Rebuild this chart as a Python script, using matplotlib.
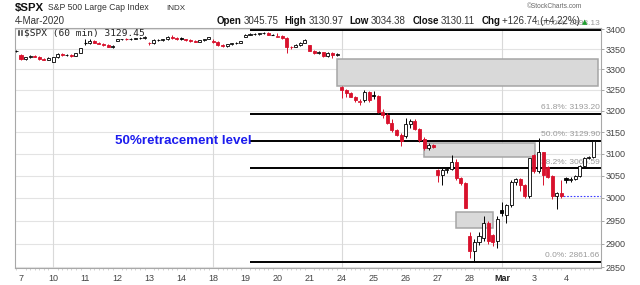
import matplotlib
matplotlib.use('Agg')
import matplotlib.pyplot as plt
from matplotlib.patches import Rectangle
from matplotlib.ticker import NullLocator, FixedLocator

plt.rcParams['font.family'] = ['Liberation Sans', 'DejaVu Sans']

# ---------------- data ----------------
day_labels = ['7', '10', '11', '12', '13', '14', '18', '19', '20', '21',
              '24', '25', '26', '27', '28', 'Mar', '3', '4']
week_starts = ['10', '18', '24', 'Mar']
bars_per_day = 7

opens = [3344.0,
         3335.5, 3326, 3329, 3332, 3331, 3325, 3324,
         3318.3, 3329, 3338, 3334, 3336, 3333, 3340,
         3365.9, 3366, 3370, 3365, 3363, 3360, 3356,
         3370.5, 3374, 3375, 3374.5, 3376, 3377, 3378,
         3365.9, 3364, 3372, 3373, 3374, 3381, 3377,
         3378.1, 3374, 3372, 3370, 3368, 3372, 3375,
         3369, 3368, 3360, 3357, 3362, 3364, 3366,
         3380.4, 3386, 3387, 3388, 3389, 3390, 3386,
         3380.5, 3382, 3378, 3355, 3356, 3360, 3366,
         3360.5, 3346, 3340, 3342, 3332, 3341, 3334,
         3257.6, 3250, 3242, 3234, 3221, 3226, 3246,
         3238.9, 3235, 3198, 3190, 3172, 3155, 3143,
         3139.9, 3168, 3176, 3157, 3135, 3112, 3120,
         3062.5, 3051, 3062, 3065, 3082, 3044, 3033,
         2916.9, 2885, 2903, 2912, 2945, 2918, 2905,
         2974.3, 2962, 2984, 3035, 3042, 3030, 3004,
         3096.5, 3060, 3103, 3070, 3050, 3004, 3012,
         3045.75, 3040, 3043, 3049, 3072, 3090, 3092]

highs = [3346.5,
         3337, 3331, 3334, 3335, 3333, 3328, 3330,
         3330, 3339, 3340, 3337, 3338, 3341, 3352.3,
         3375.6, 3374, 3372, 3368, 3365, 3362, 3360,
         3375, 3376, 3377, 3377, 3378, 3380, 3381.5,
         3368, 3374, 3375, 3376, 3382, 3385.1, 3379,
         3380.7, 3376, 3374, 3372, 3373, 3376, 3380.7,
         3375, 3369, 3362, 3363, 3366, 3368, 3371,
         3388, 3389, 3390, 3391, 3393.5, 3392, 3388,
         3389.2, 3384, 3379, 3358, 3362, 3368, 3376,
         3360.8, 3348, 3344, 3343, 3342, 3342, 3339,
         3259.8, 3253, 3246, 3236, 3228, 3250, 3248,
         3247, 3237, 3204, 3196, 3180, 3158, 3148,
         3182.5, 3180, 3180, 3160, 3138, 3124, 3122,
         3064, 3068, 3068, 3097, 3088, 3046, 3035,
         2925, 2910, 2925, 2960, 2950, 2922, 2959.7,
         2990, 2986, 3040, 3045, 3044, 3032, 3091,
         3100, 3136.7, 3105, 3072, 3052, 3014, 3040,
         3048, 3046, 3052, 3075, 3092, 3095, 3131]

lows = [3343,
        3324, 3322, 3327, 3330, 3323, 3322, 3322,
        3317.8, 3327, 3332, 3332, 3331, 3332, 3339,
        3361, 3362, 3364, 3362, 3358, 3354, 3352.7,
        3369.7, 3372, 3373, 3373, 3374, 3375, 3376,
        3360.5, 3363, 3370, 3371, 3373, 3376, 3372,
        3372, 3370, 3368, 3366.2, 3367, 3371, 3374,
        3366, 3358, 3355.6, 3356, 3360, 3362, 3365,
        3378.8, 3384, 3385, 3386, 3387, 3385, 3384,
        3379, 3376, 3341, 3350, 3354, 3358, 3364,
        3344, 3338, 3338, 3330, 3331, 3328.5, 3333,
        3230, 3233, 3232, 3222, 3214.65, 3222, 3222,
        3228, 3196, 3184, 3168, 3150, 3140, 3118.8,
        3136, 3160, 3155, 3128, 3109, 3109, 3114,
        3035, 3030, 3056, 3062, 3040, 3030, 2977.4,
        2870, 2861.66, 2898, 2905, 2900, 2895, 2890,
        2960, 2945.2, 2980, 3030, 3015, 3000, 3000,
        3055, 3055, 3030, 3045, 2998, 2976.6, 3000,
        3034.4, 3036, 3040, 3046, 3070, 3088, 3090]

closes = [3345.8,
          3326, 3329, 3332, 3331, 3325, 3324, 3327.7,
          3329, 3338, 3334, 3336, 3333, 3340, 3352.1,
          3366, 3370, 3365, 3363, 3360, 3356, 3357.75,
          3374, 3375, 3374.5, 3376, 3377, 3378, 3379.45,
          3364, 3372, 3373, 3374, 3381, 3377, 3373.9,
          3374, 3372, 3370, 3368, 3372, 3375, 3380.2,
          3368, 3360, 3357, 3362, 3364, 3366, 3370.3,
          3386, 3387, 3388, 3389, 3390, 3386, 3386.15,
          3382, 3378, 3355, 3354, 3360, 3366, 3373.2,
          3346, 3340, 3342, 3332, 3341, 3334, 3337.75,
          3250, 3242, 3234, 3226, 3224, 3246, 3225.9,
          3235, 3198, 3190, 3172, 3155, 3143, 3128.2,
          3168, 3176, 3157, 3131, 3112, 3120, 3116.4,
          3051, 3062, 3066, 3082, 3044, 3033, 2978.8,
          2885, 2903, 2916, 2945, 2905, 2903, 2954.2,
          2966, 2984, 3036, 3042, 3030, 3004, 3090.2,
          3060, 3103, 3052, 3048, 3005, 3012, 3003.4,
          3040, 3043, 3050, 3072, 3090, 3092, 3129.45]

y_ticks = [2850, 2900, 2950, 3000, 3050, 3100, 3150, 3200, 3250, 3300, 3350, 3400]

fib_names = ['0.0%', '38.2%', '50.0%', '61.8%', '100.0%']
fib_levels = [2861.66, 3066.59, 3129.90, 3193.20, 3398.13]
fib_start_bar = 51

gap_x0 = [70, 89, 96]
gap_x1 = [126.9, 113.2, 104.1]
gap_lo = [3260, 3093, 2935]
gap_hi = [3326, 3124, 2970]

prev_close = 3003.37
prev_close_start = 118.6

# ---------------- figure ----------------
W, H = 640, 285
fig = plt.figure(figsize=(6.4, 2.85), dpi=100)
L, R, T, B = 15, 601, 27.5, 268
ax = fig.add_axes([L / W, 1 - B / H, (R - L) / W, (B - T) / H])
ax.set_yscale('log')
XMIN, XMAX = -0.31, 127.64
ax.set_xlim(XMIN, XMAX)
ax.set_ylim(2848.3, 3403.8)

RED = '#d8112c'
BLK = '#000000'

# grid
for v in y_ticks:
    ax.axhline(v, color='#e3e3e3', lw=0.8, zorder=0)
day_start = [1 + bars_per_day * i for i in range(len(day_labels))]
for d in week_starts:
    ax.axvline(day_start[day_labels.index(d)], color='#d9d9d9', lw=0.8, zorder=0)

# gap boxes
for x0, x1, lo, hi in zip(gap_x0, gap_x1, gap_lo, gap_hi):
    ax.add_patch(Rectangle((x0, lo), x1 - x0, hi - lo, facecolor='#d9d9d9',
                           edgecolor='#a6a6a6', lw=1.1, zorder=1))

# fib lines
for name, lev in zip(fib_names, fib_levels):
    ax.hlines(lev, fib_start_bar, XMAX, colors='black', lw=1.4, zorder=2)
    ax.annotate(f'{name}: {lev:.2f}', xy=(XMAX - 0.3, lev), xytext=(0, 1.8),
                textcoords='offset points', ha='right', va='bottom',
                fontsize=6, color='#9a9a9a', annotation_clip=False, zorder=2)

ax.text(fib_start_bar + 0.3, fib_levels[2], '50%retracement level', ha='right', va='center',
        fontsize=9.6, fontweight='bold', color='#1c1cee', zorder=3)

ax.hlines(prev_close, prev_close_start, XMAX, colors='#3a3aff', lw=0.8,
          linestyles=(0, (1.5, 1.5)), zorder=2)

# candles
bw = 0.66
for i in range(len(closes)):
    o, h, l, c = opens[i], highs[i], lows[i], closes[i]
    pc = closes[i - 1] if i > 0 else o
    col = RED if c < pc else BLK
    hollow = c >= o
    ax.vlines(i, l, h, colors=col, lw=0.7, zorder=4)
    lo_b, hi_b = min(o, c), max(o, c)
    if hi_b - lo_b < 0.6:
        ax.hlines(o, i - bw / 2, i + bw / 2, colors=col, lw=0.8, zorder=5)
    else:
        ax.add_patch(Rectangle((i - bw / 2, lo_b), bw, hi_b - lo_b,
                               facecolor='white' if hollow else col,
                               edgecolor=col, lw=0.6, zorder=5))

# axes styling
for s in ax.spines.values():
    s.set_color('#a8a8a8')
    s.set_linewidth(0.8)
ax.yaxis.tick_right()
ax.yaxis.set_major_locator(FixedLocator(y_ticks))
ax.yaxis.set_minor_locator(NullLocator())
ax.set_yticklabels([str(v) for v in y_ticks])
ax.tick_params(axis='y', length=2.5, width=0.6, color='#999999', pad=1,
               labelsize=6.5, labelcolor='#444444')
ax.set_xticks(day_start)
ax.set_xticklabels(day_labels)
ax.set_xticks(list(range(len(closes))), minor=True)
ax.tick_params(axis='x', which='major', length=0, pad=4, labelsize=6.5, labelcolor='#444444')
ax.tick_params(axis='x', which='minor', length=1.5, width=0.5, color='#c0c0c0')
for t in ax.get_xticklabels():
    if t.get_text() == 'Mar':
        t.set_fontweight('bold')
        t.set_color('#222222')

# ---------------- header texts ----------------
def fx(px):
    return px / W

def fy(py):
    return 1 - py / H

def chain(x, y, parts):
    t = fig.text(fx(x), fy(y), parts[0][0], va='baseline', **parts[0][2])
    for s, gap, kw in parts[1:]:
        t = ax.annotate(s, xy=(1, 0), xycoords=t, xytext=(gap, 0),
                        textcoords='offset points', va='bottom', ha='left',
                        annotation_clip=False, **kw)
    return t

bold7 = dict(fontsize=7, fontweight='bold', color='#111111')
reg7 = dict(fontsize=7, color='#333333')

chain(15, 10.5, [('$SPX', 0, dict(fontsize=8.2, fontweight='bold', color='#111111')),
                 ('S&P 500 Large Cap Index', 2.5, dict(fontsize=6.2, color='#333333')),
                 ('INDX', 13, dict(fontsize=5.8, color='#333333'))])
fig.text(fx(15), fy(23.5), '4-Mar-2020', va='baseline', fontsize=7, color='#333333')
chain(216.5, 23.5, [('Open', 0, bold7), ('3045.75', 1.5, reg7),
                    ('High', 4.5, bold7), ('3130.97', 1.5, reg7),
                    ('Low', 4.5, bold7), ('3034.38', 1.5, reg7),
                    ('Close', 4.5, bold7), ('3130.11', 1.5, reg7),
                    ('Chg', 4.5, bold7), ('+126.74 (+4.22%)', 1.5, reg7),
                    ('\u25B2', 1.0, dict(fontsize=5, color='#1f9e2f', family='DejaVu Sans'))])
fig.text(fx(555), fy(7), '\u00A9StockCharts.com', ha='center', va='center',
         fontsize=4.8, color='#666666')

# legend inside plot
fig.add_artist(Rectangle((fx(17.5), fy(35.5)), 1.6 / W, 5 / H, transform=fig.transFigure,
                         facecolor='#333333', edgecolor='#333333', lw=0.4))
fig.add_artist(Rectangle((fx(20.5), fy(35)), 1.6 / W, 5 / H, transform=fig.transFigure,
                         facecolor='white', edgecolor='#333333', lw=0.5))
fig.text(fx(23.5), fy(33), '$SPX (60 min) 3129.45', va='center', ha='left',
         fontsize=6.8, family='DejaVu Sans Mono', color='#222222')

fig.savefig('out.png', dpi=100)
